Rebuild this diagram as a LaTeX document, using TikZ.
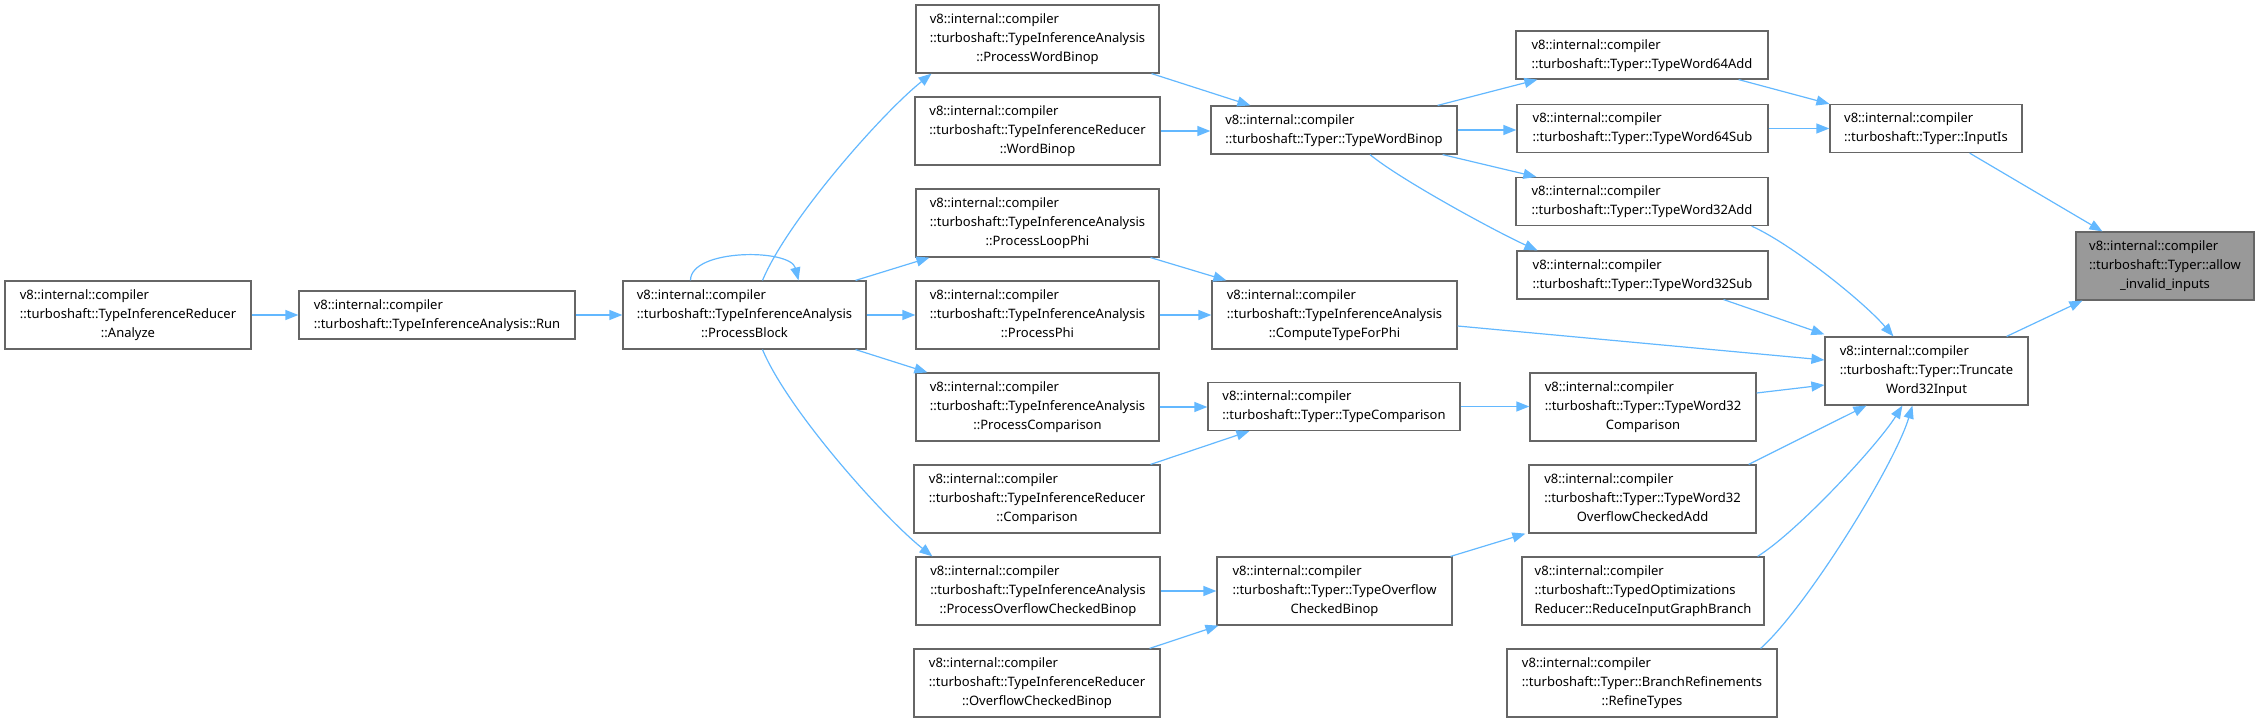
\documentclass[tikz,border=0pt]{standalone}
\usepackage{fontspec}
\newfontfamily\doxfont{Noto Sans}
\usepackage{tikz}
\usetikzlibrary{arrows.meta,calc,positioning}
\definecolor{edgeblue}{HTML}{63B8FF}
\definecolor{boxgray}{HTML}{666666}
\definecolor{markgray}{HTML}{999999}
\newcommand{\twolines}[2]{\begin{tabular}{@{}l@{}}#1\\#2\end{tabular}}
\newcommand{\threelines}[3]{\begin{tabular}{@{}l@{}}#1\\#2\\\multicolumn{1}{@{}c@{}}{#3}\end{tabular}}

\begin{document}
\begin{tikzpicture}[x=1pt,y=-1pt,
    fn/.style={draw=boxgray, line width=1.2pt, fill=white, inner sep=0pt,
      font=\doxfont\fontsize{13}{19}\selectfont},
    fn2/.style={fn, minimum height=48pt},
    fn3/.style={fn, minimum height=68pt},
    call/.style={draw=edgeblue, line width=1.2pt, -{Triangle[length=13pt,width=10pt]}}]
        \useasboundingbox (0,0) rectangle (2259,722);
        % Callers on the left
        \node[fn3, minimum width=246] (analyze) at (128,315)
          {\threelines{v8::internal::compiler}{::turboshaft::TypeInferenceReducer}{::Analyze}};
        \node[fn2, minimum width=276] (run) at (437,315)
          {\twolines{v8::internal::compiler}{::turboshaft::TypeInferenceAnalysis::Run}};
        \node[fn3, minimum width=243] (procblock) at (744.5,315)
          {\threelines{v8::internal::compiler}{::turboshaft::TypeInferenceAnalysis}{::ProcessBlock}};
        % Second column
        \node[fn3, minimum width=243] (procwordbinop) at (1037.5,39)
          {\threelines{v8::internal::compiler}{::turboshaft::TypeInferenceAnalysis}{::ProcessWordBinop}};
        \node[fn3, minimum width=245] (redwordbinop) at (1037.5,131)
          {\threelines{v8::internal::compiler}{::turboshaft::TypeInferenceReducer}{::WordBinop}};
        \node[fn3, minimum width=243] (procloopphi) at (1037.5,223)
          {\threelines{v8::internal::compiler}{::turboshaft::TypeInferenceAnalysis}{::ProcessLoopPhi}};
        \node[fn3, minimum width=243] (procphi) at (1037.5,315)
          {\threelines{v8::internal::compiler}{::turboshaft::TypeInferenceAnalysis}{::ProcessPhi}};
        \node[fn3, minimum width=243] (proccomparison) at (1037.5,407)
          {\threelines{v8::internal::compiler}{::turboshaft::TypeInferenceAnalysis}{::ProcessComparison}};
        \node[fn3, minimum width=246] (redcomparison) at (1037,499)
          {\threelines{v8::internal::compiler}{::turboshaft::TypeInferenceReducer}{::Comparison}};
        \node[fn3, minimum width=244] (procoverflow) at (1038,591)
          {\threelines{v8::internal::compiler}{::turboshaft::TypeInferenceAnalysis}{::ProcessOverflowCheckedBinop}};
        \node[fn3, minimum width=246] (redoverflow) at (1037,683)
          {\threelines{v8::internal::compiler}{::turboshaft::TypeInferenceReducer}{::OverflowCheckedBinop}};
        % Third column
        \node[fn2, minimum width=246] (typewordbinop) at (1334,130)
          {\twolines{v8::internal::compiler}{::turboshaft::Typer::TypeWordBinop}};
        \node[fn3, minimum width=245] (computephi) at (1334.5,315)
          {\threelines{v8::internal::compiler}{::turboshaft::TypeInferenceAnalysis}{::ComputeTypeForPhi}};
        \node[fn2, minimum width=252] (typecomparison) at (1334,406.5)
          {\twolines{v8::internal::compiler}{::turboshaft::Typer::TypeComparison}};
        \node[fn3, minimum width=235] (typeoverflow) at (1334.5,591)
          {\threelines{v8::internal::compiler}{::turboshaft::Typer::TypeOverflow}{CheckedBinop}};
        % Fourth column
        \node[fn2, minimum width=252] (wadd64) at (1642,55)
          {\twolines{v8::internal::compiler}{::turboshaft::Typer::TypeWord64Add}};
        \node[fn2, minimum width=251] (wsub64) at (1642.5,128.5)
          {\twolines{v8::internal::compiler}{::turboshaft::Typer::TypeWord64Sub}};
        \node[fn2, minimum width=252] (wadd32) at (1642,201.5)
          {\twolines{v8::internal::compiler}{::turboshaft::Typer::TypeWord32Add}};
        \node[fn2, minimum width=251] (wsub32) at (1642.5,275)
          {\twolines{v8::internal::compiler}{::turboshaft::Typer::TypeWord32Sub}};
        \node[fn3, minimum width=226] (wcmp32) at (1643,407)
          {\threelines{v8::internal::compiler}{::turboshaft::Typer::TypeWord32}{Comparison}};
        \node[fn3, minimum width=227] (wovfadd32) at (1642.5,499)
          {\threelines{v8::internal::compiler}{::turboshaft::Typer::TypeWord32}{OverflowCheckedAdd}};
        \node[fn3, minimum width=242] (reducebranch) at (1643,591)
          {\threelines{v8::internal::compiler}{::turboshaft::TypedOptimizations}{Reducer::ReduceInputGraphBranch}};
        \node[fn3, minimum width=270] (refinetypes) at (1642,683)
          {\threelines{v8::internal::compiler}{::turboshaft::Typer::BranchRefinements}{::RefineTypes}};
        % Right side
        \node[fn2, minimum width=192] (inputis) at (1926,128.5)
          {\twolines{v8::internal::compiler}{::turboshaft::Typer::InputIs}};
        \node[fn3, minimum width=203] (truncate) at (1926.5,371)
          {\threelines{v8::internal::compiler}{::turboshaft::Typer::Truncate}{Word32Input}};
        \node[fn3, minimum width=178, fill=markgray] (allow) at (2165,266)
          {\threelines{v8::internal::compiler}{::turboshaft::Typer::allow}{\_invalid\_inputs}};
        % Calls from the left part
        \draw[call] (analyze.east) -- (run.west);
        \draw[call] (run.west -| run.east) -- (procblock.west);
        \draw[call] ([xshift=-54pt]procblock.north) .. controls +(0,-32) and +(-8,-32) .. ([xshift=54pt]procblock.north);
        \draw[call] ([xshift=18pt]procblock.north) .. controls +(25,-60) and +(-50,40) .. ([xshift=-106pt]procwordbinop.south);
        \draw[call] ([xshift=-11pt]procblock.north east) -- ([xshift=14pt]procloopphi.south west);
        \draw[call] (procblock.east) -- (procphi.west);
        \draw[call] ([xshift=-11pt]procblock.south east) -- ([xshift=12pt]proccomparison.north west);
        \draw[call] ([xshift=18pt]procblock.south) .. controls +(25,60) and +(-50,-40) .. ([xshift=17pt]procoverflow.north west);
        % Second to third column
        \draw[call] ([xshift=-8pt]procwordbinop.south east) -- ([xshift=40pt]typewordbinop.north west);
        \draw[call] (redwordbinop.east) -- (redwordbinop.east -| typewordbinop.west);
        \draw[call] ([xshift=-9pt]procloopphi.south east) -- ([xshift=15pt]computephi.north west);
        \draw[call] (procphi.east) -- (computephi.west);
        \draw[call] (proccomparison.east) -- (proccomparison.east -| typecomparison.west);
        \draw[call] ([xshift=-10pt]redcomparison.north east) -- ([xshift=42pt]typecomparison.south west);
        \draw[call] (procoverflow.east) -- (procoverflow.east -| typeoverflow.west);
        \draw[call] ([xshift=-11pt]redoverflow.north east) -- ([xshift=2pt]typeoverflow.south west);
        % Third to fourth column
        \draw[call] ([xshift=-20pt]typewordbinop.north east) -- ([xshift=22pt]wadd64.south west);
        \draw[call] (typewordbinop.east) -- (typewordbinop.east -| wsub64.west);
        \draw[call] ([xshift=-15pt]typewordbinop.south east) -- ([xshift=21pt]wadd32.north west);
        \draw[call] ([xshift=36pt]typewordbinop.south) .. controls +(30,25) and +(-40,-18) .. ([xshift=21pt]wsub32.north west);
        \draw[call] (typecomparison.east) -- (typecomparison.east -| wcmp32.west);
        \draw[call] ([xshift=-2pt]typeoverflow.north east) -- ([xshift=-3pt]wovfadd32.south west);
        \draw[call] ([yshift=-11pt]computephi.east) -- ([yshift=11pt]truncate.west);
        % Into the callee
        \draw[call] ([xshift=-30pt]wadd64.south east) -- (inputis.north west);
        \draw[call] (wsub64.east) -- (inputis.west);
        \draw[call] ([xshift=-17pt]wadd32.south east) .. controls +(40,18) and +(-30,-35) .. ([xshift=69pt]truncate.north west);
        \draw[call] ([xshift=-45pt]wsub32.south east) -- ([yshift=2pt]truncate.north west);
        \draw[call] ([yshift=14pt]wcmp32.east) -- ([yshift=-14pt]truncate.west);
        \draw[call] ([xshift=-8pt]wovfadd32.north east) -- ([xshift=42pt]truncate.south west);
        \draw[call] ([xshift=-7pt]reducebranch.north east) .. controls +(40,-25) and +(-25,40) .. ([xshift=78pt]truncate.south west);
        \draw[call] ([xshift=-17pt]refinetypes.north east) .. controls +(45,-40) and +(-18,60) .. ([xshift=88pt]truncate.south west);
        \draw[call] ([xshift=-53pt]inputis.south east) -- ([xshift=27pt]allow.north west);
        \draw[call] ([xshift=-22pt]truncate.north east) -- ([xshift=7pt]allow.south west);
\end{tikzpicture}
\end{document}
